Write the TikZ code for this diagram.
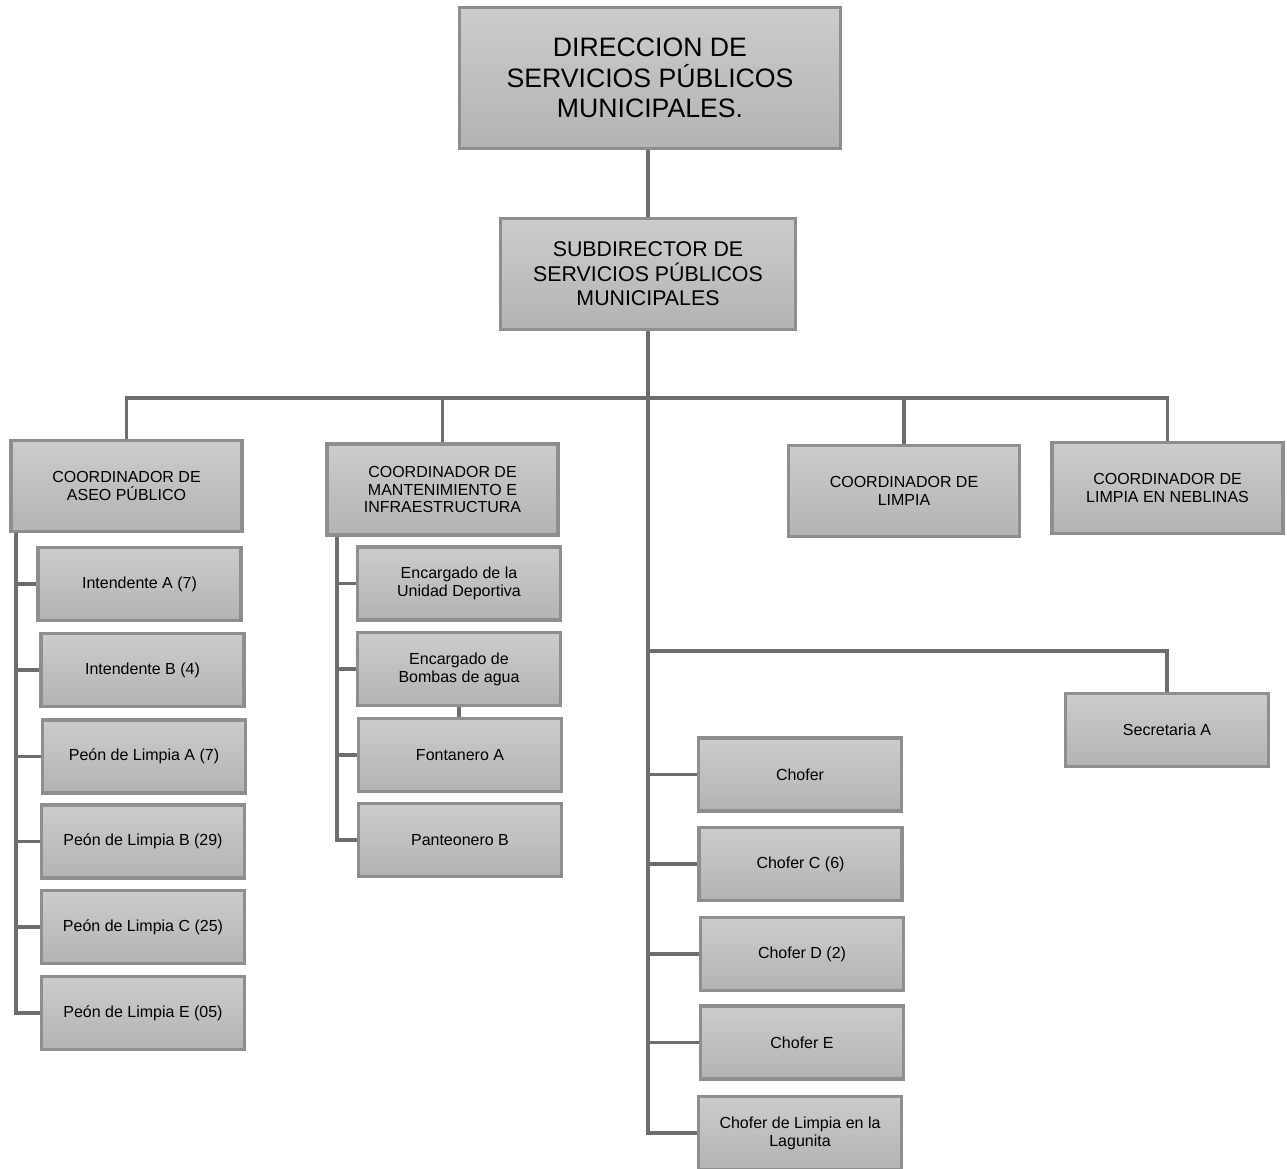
\documentclass[tikz,border=0pt]{standalone}
\usepackage{fontspec}
\setmainfont{Liberation Sans}
\definecolor{boxtop}{HTML}{CCCCCC}
\definecolor{boxbot}{HTML}{B3B3B3}
\definecolor{boxline}{HTML}{8E8E8E}
\definecolor{wirecol}{HTML}{6E6E6E}
\begin{document}
\begin{tikzpicture}[x=0.75pt,y=-0.75pt,
  box/.style={draw=boxline,line width=2.7pt,top color=boxtop,bottom color=boxbot,
    align=center,inner sep=0pt,font=\fontsize{12}{13.3}\selectfont},
  unit/.style={box,minimum width=152pt,minimum height=55pt},
  coord/.style={box,minimum width=173pt,minimum height=68pt},
  wire/.style={draw=wirecol,line width=2.8pt}]
\useasboundingbox (0,0) rectangle (1287,1168);
\node[box,minimum width=286pt,minimum height=106pt,font=\fontsize{20}{22.9}\selectfont] (dir) at (650,78) {DIRECCION DE\\SERVICIOS PÚBLICOS\\MUNICIPALES.};
\node[box,minimum width=221pt,minimum height=83pt,font=\fontsize{16}{18.4}\selectfont] (sub) at (648,274) {SUBDIRECTOR DE\\SERVICIOS PÚBLICOS\\MUNICIPALES};
\coordinate (bus) at (648,398);
\coordinate (sbus) at (648,651);
\node[coord] (aseo) at (126.5,486) {COORDINADOR DE\\ASEO PÚBLICO};
\node[coord] (mant) at (442.5,489.5) {COORDINADOR DE\\MANTENIMIENTO E\\INFRAESTRUCTURA};
\node[coord] (limp) at (904,491) {COORDINADOR DE\\LIMPIA};
\node[coord] (nebl) at (1167.5,488) {COORDINADOR DE\\LIMPIA EN NEBLINAS};
\node[unit] (ia) at (139.5,584) {Intendente A (7)};
\node[unit] (ib) at (142.5,670) {Intendente B (4)};
\node[unit] (pa) at (144,756.5) {Peón de Limpia A (7)};
\node[unit] (pb) at (143,841.5) {Peón de Limpia B (29)};
\node[unit] (pc) at (143,927) {Peón de Limpia C (25)};
\node[unit] (pe) at (143,1013) {Peón de Limpia E (05)};
\node[unit] (ud) at (459,583.5) {Encargado de la\\Unidad Deportiva};
\node[unit] (bo) at (459,669) {Encargado de\\Bombas de agua};
\node[unit] (fo) at (460,755) {Fontanero A};
\node[unit] (pt) at (460,840) {Panteonero B};
\node[unit] (sec) at (1167,730) {Secretaria A};
\node[unit] (ch) at (800,774.5) {Chofer};
\node[unit] (chc) at (800.5,864) {Chofer C (6)};
\node[unit] (chd) at (802,954) {Chofer D (2)};
\node[unit] (che) at (802,1042.5) {Chofer E};
\node[unit] (chl) at (800,1133) {Chofer de Limpia en la\\Lagunita};
\coordinate (ta) at (16,533);
\coordinate (tm) at (337,537);
\draw[wire] (sub.north |- dir.south) -- (sub.north);
\draw[wire] (aseo.north) -- (aseo.north |- bus) -- (nebl.north |- bus) -- (nebl.north);
\draw[wire] (mant.north) -- (mant.north |- bus);
\draw[wire] (limp.north) -- (limp.north |- bus);
\draw[wire] (sub.south) |- (chl.west);
\draw[wire] (sbus) -| (sec.north);
\draw[wire] (ch.west -| sub.south) -- (ch.west);
\draw[wire] (chc.west -| sub.south) -- (chc.west);
\draw[wire] (chd.west -| sub.south) -- (chd.west);
\draw[wire] (che.west -| sub.south) -- (che.west);
\draw[wire] (ta) |- (pe.west);
\draw[wire] (ia.west -| ta) -- (ia.west);
\draw[wire] (ib.west -| ta) -- (ib.west);
\draw[wire] (pa.west -| ta) -- (pa.west);
\draw[wire] (pb.west -| ta) -- (pb.west);
\draw[wire] (pc.west -| ta) -- (pc.west);
\draw[wire] (tm) |- (pt.west);
\draw[wire] (ud.west -| tm) -- (ud.west);
\draw[wire] (bo.west -| tm) -- (bo.west);
\draw[wire] (fo.west -| tm) -- (fo.west);
\draw[wire] (bo.south) -- (bo.south |- fo.north);
\end{tikzpicture}
\end{document}
